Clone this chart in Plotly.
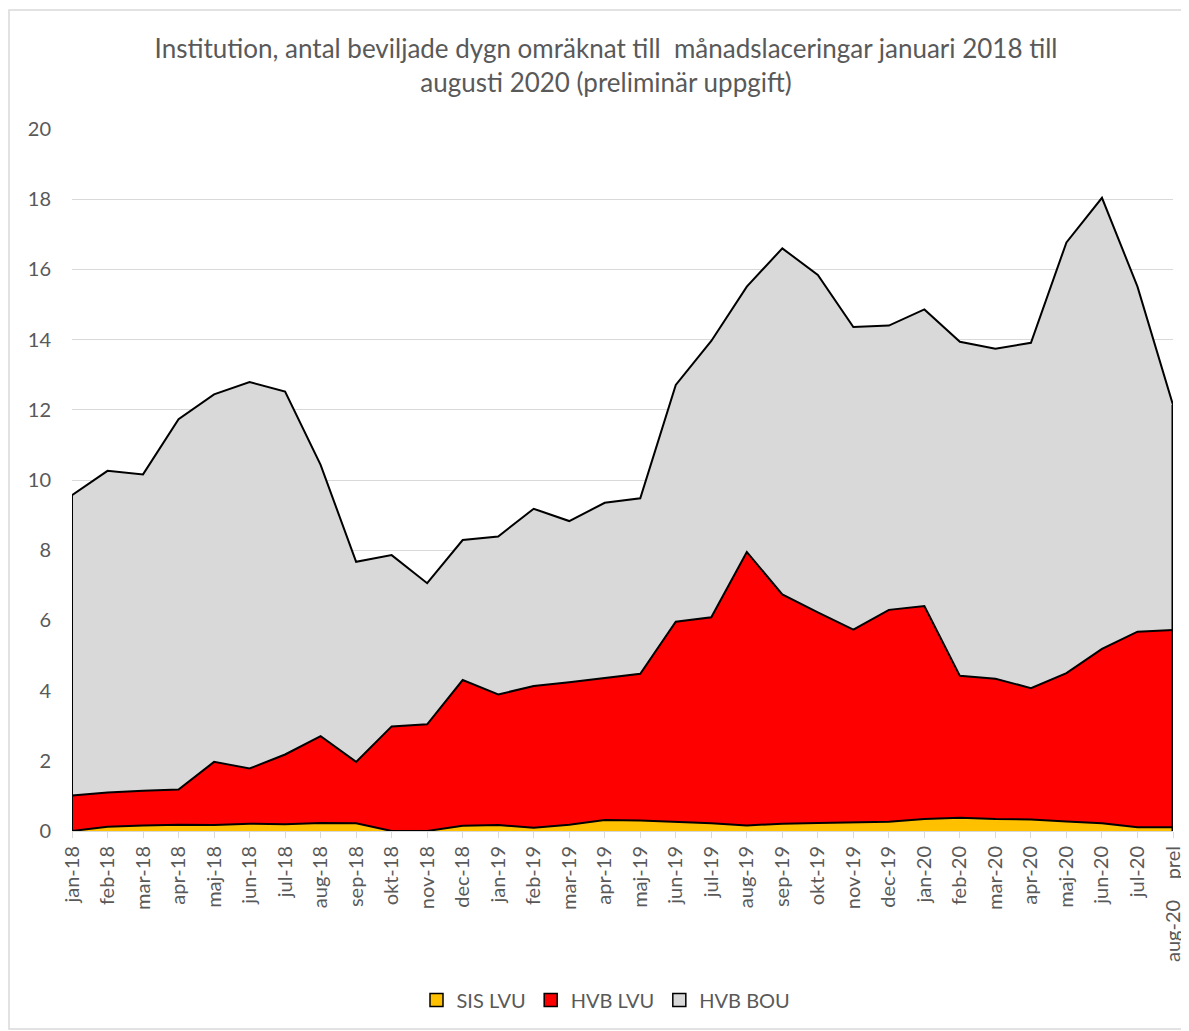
import plotly.graph_objects as go
import numpy as np

months = ["jan-18", "feb-18", "mar-18", "apr-18", "maj-18", "jun-18", "jul-18", "aug-18",
          "sep-18", "okt-18", "nov-18", "dec-18", "jan-19", "feb-19", "mar-19", "apr-19",
          "maj-19", "jun-19", "jul-19", "aug-19", "sep-19", "okt-19", "nov-19", "dec-19",
          "jan-20", "feb-20", "mar-20", "apr-20", "maj-20", "jun-20", "jul-20",
          "aug-20\u00a0\u00a0\u00a0\u00a0prel"]

sis_lvu = [0.00, 0.12, 0.16, 0.18, 0.17, 0.21, 0.19, 0.23, 0.22, 0.00, 0.00, 0.15,
           0.17, 0.09, 0.18, 0.31, 0.30, 0.27, 0.22, 0.16, 0.21, 0.23, 0.25, 0.26,
           0.34, 0.38, 0.34, 0.33, 0.27, 0.22, 0.11, 0.11]

hvb_lvu = [1.01, 0.98, 0.99, 1.00, 1.80, 1.57, 1.99, 2.47, 1.75, 2.98, 3.04, 4.15,
           3.72, 4.04, 4.06, 4.04, 4.18, 5.69, 5.87, 7.79, 6.53, 6.00, 5.49, 6.04,
           6.07, 4.04, 4.00, 3.74, 4.23, 4.97, 5.57, 5.62]

hvb_bou = [8.56, 9.16, 9.01, 10.55, 10.47, 11.01, 10.34, 7.73, 5.70, 4.88, 4.02, 3.99,
           4.50, 5.05, 4.59, 5.00, 5.00, 6.75, 7.87, 7.56, 9.86, 9.61, 8.62, 8.10,
           8.45, 9.52, 9.40, 9.84, 12.27, 12.85, 9.83, 6.41]

series = [("SIS LVU", sis_lvu, "#FFC000"),
          ("HVB LVU", hvb_lvu, "#FF0000"),
          ("HVB BOU", hvb_bou, "#D9D9D9")]

FONT = "Lato, 'Open Sans', sans-serif"
GREY = "#595959"

W, H = 1181, 1023
ML, MR, MT, MB = 64, 16, 121, 200
PW, PH = W - ML - MR, H - MT - MB

fig = go.Figure()
for name, vals, col in series:
    fig.add_trace(go.Scatter(
        x=months, y=vals, name=name, mode="lines",
        stackgroup="one", fillcolor=col,
        line=dict(color="black", width=2), showlegend=False,
    ))

total = np.array(sis_lvu) + np.array(hvb_lvu) + np.array(hvb_bou)
# vertical outline edges of the stacked areas
fig.add_trace(go.Scatter(x=[months[0], months[0]], y=[0, total[0]], mode="lines",
                         line=dict(color="black", width=2), showlegend=False, hoverinfo="skip"))
fig.add_trace(go.Scatter(x=[months[-1], months[-1]], y=[0, total[-1]], mode="lines",
                         line=dict(color="black", width=3), showlegend=False, hoverinfo="skip"))

# legend entries with square swatches
for name, vals, col in series:
    fig.add_trace(go.Scatter(
        x=[None], y=[None], mode="markers", name=name,
        marker=dict(symbol="square", size=13, color=col, line=dict(color="black", width=1.5)),
    ))

fig.update_layout(
    width=W, height=H, autosize=False,
    margin=dict(l=ML, r=MR, t=MT, b=MB),
    paper_bgcolor="white", plot_bgcolor="white",
    font=dict(family=FONT, color=GREY, size=20),
    title=dict(
        text="Institution, antal beviljade dygn omräknat till  månadslaceringar januari 2018 till<br>augusti 2020 (preliminär uppgift)",
        x=598 / W, xref="container", xanchor="center",
        y=1 - 50 / H, yref="container", yanchor="top",
        font=dict(family=FONT, size=26, color=GREY),
    ),
    legend=dict(
        orientation="h", x=(598 - ML) / PW, xanchor="center",
        y=-(992 - (MT + PH)) / PH, yanchor="middle", traceorder="normal",
        font=dict(family=FONT, size=20, color=GREY),
        itemwidth=30,
    ),
    showlegend=True,
)

fig.update_xaxes(
    type="category", tickangle=-90, range=[0, len(months) - 1],
    showgrid=False, showline=True, linecolor="#D9D9D9", linewidth=1,
    ticks="outside", ticklen=6, tickcolor="#D9D9D9",
    tickfont=dict(family=FONT, size=20, color=GREY),
    zeroline=False, automargin=False,
)
fig.update_yaxes(
    range=[0, 20], dtick=2, showgrid=True, gridcolor="#D9D9D9", gridwidth=1,
    zeroline=False, showline=False, ticks="", ticklabelstandoff=20,
    tickfont=dict(family=FONT, size=20, color=GREY), automargin=False,
)

# light outer chart border
fig.add_shape(type="rect", xref="paper", yref="paper",
              x0=-(ML - 1) / PW, x1=1.0 + (MR - 3) / PW,
              y0=-(MB - 2) / PH, y1=1 + (MT - 2) / PH,
              line=dict(color="#D9D9D9", width=1.5), fillcolor="rgba(0,0,0,0)", layer="below")

fig.write_html("out.html")
